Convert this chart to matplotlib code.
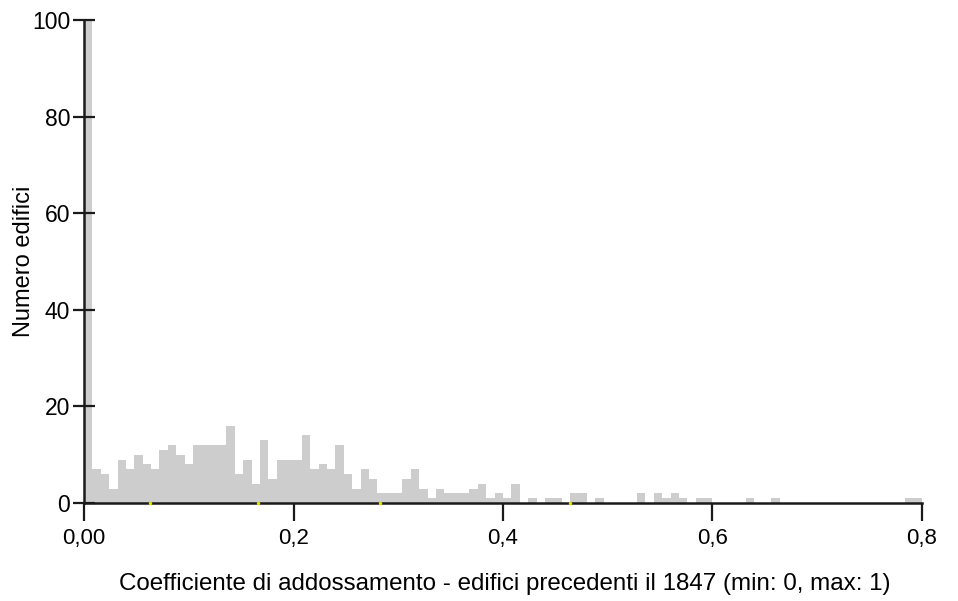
import matplotlib
matplotlib.use("Agg")
import matplotlib.pyplot as plt
import numpy as np

plt.rcParams['font.family'] = ['Liberation Sans', 'DejaVu Sans']

# Histogram of the attachment coefficient, bins of width 0.008 starting at 0
bin_width = 0.008
counts = [
    100, 7, 6, 3, 9, 7, 10, 8, 7, 11,      # 0.000 - 0.080
    12, 10, 8, 12, 12, 12, 12, 16, 6, 9,   # 0.080 - 0.160
    4, 13, 5, 9, 9, 9, 14, 7, 8, 7,        # 0.160 - 0.240
    12, 6, 3, 7, 5, 2, 2, 2, 5, 7,         # 0.240 - 0.320
    3, 1, 3, 2, 2, 2, 3, 4, 1, 2,          # 0.320 - 0.400
    1, 4, 0, 1, 0, 1, 1, 0, 2, 2,          # 0.400 - 0.480
    0, 1, 0, 0, 0, 0, 2, 0, 2, 1,          # 0.480 - 0.560
    2, 1, 0, 1, 1, 0, 0, 0, 0, 1,          # 0.560 - 0.640
    0, 0, 1, 0, 0, 0, 0, 0, 0, 0,          # 0.640 - 0.720
    0, 0, 0, 0, 0, 0, 0, 0, 1, 1,          # 0.720 - 0.800
]
bin_left = np.arange(len(counts)) * bin_width

# small markers drawn on the baseline
marker_x = [0.063, 0.166, 0.283, 0.464]

x_ticks = [0.0, 0.2, 0.4, 0.6, 0.8]
x_tick_labels = ["0,00", "0,2", "0,4", "0,6", "0,8"]
y_ticks = [0, 20, 40, 60, 80, 100]
y_tick_labels = ["0", "20", "40", "60", "80", "100"]

fig = plt.figure(figsize=(9.58, 6.01), dpi=100)
ax = fig.add_axes([0.0877, 0.163, 0.8747, 0.8037])

ax.bar(bin_left, counts, width=bin_width, align='edge',
       color='#cdcdcd', edgecolor='none', zorder=1)
ax.scatter(marker_x, [0] * len(marker_x), s=6, color='#e6e600',
           zorder=4, clip_on=False, linewidths=0)

ax.set_xlim(0, 0.8)
ax.set_ylim(0, 100)

for side in ('top', 'right'):
    ax.spines[side].set_visible(False)
for side in ('left', 'bottom'):
    ax.spines[side].set_linewidth(1.8)
    ax.spines[side].set_color('#1a1a1a')
    ax.spines[side].set_zorder(3)

ax.set_xticks(x_ticks)
ax.set_xticklabels(x_tick_labels)
ax.set_yticks(y_ticks)
ax.set_yticklabels(y_tick_labels)

ax.tick_params(axis='x', direction='out', length=13, width=1.6,
               color='#1a1a1a', labelsize=16, pad=5)
ax.tick_params(axis='y', direction='inout', length=16, width=1.6,
               color='#1a1a1a', labelsize=16.5, pad=2)

ax.set_xlabel("Coefficiente di addossamento - edifici precedenti il 1847 (min: 0, max: 1)",
              fontsize=17.4)
ax.set_ylabel("Numero edifici", fontsize=17)
ax.xaxis.set_label_coords(0.502, -0.145)
ax.yaxis.set_label_coords(-0.059, 0.5)

fig.savefig("out.png", dpi=100)
